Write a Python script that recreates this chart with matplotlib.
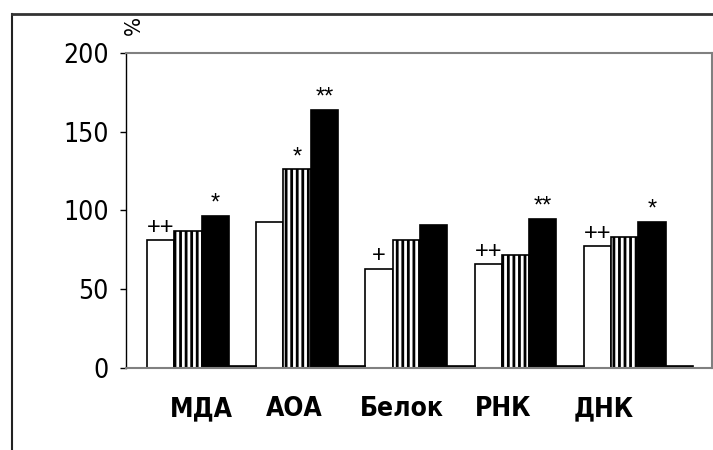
import matplotlib
matplotlib.use("Agg")
import matplotlib.pyplot as plt
from matplotlib.lines import Line2D
from matplotlib import font_manager as fm
import numpy as np
import os

plt.rcParams['hatch.linewidth'] = 2.0

categories = ["МДА", "АОА", "Белок", "РНК", "ДНК"]
series_white = [81, 93, 63, 66, 77.5]
series_striped = [87, 126, 81, 72, 83.5]
series_black = [96.5, 164, 91, 94.5, 92.5]
series_base = [1.5, 1.5, 1.5, 1.5, 1.5]
yticks = [0, 50, 100, 150, 200]

# significance marks: (category index, series index, text)
marks = [(0, 0, "++"), (0, 2, "*"), (1, 1, "*"), (1, 2, "**"),
         (2, 0, "+"), (3, 0, "++"), (3, 2, "**"), (4, 0, "++"), (4, 2, "*")]

# find a narrow font if present
files = fm.findSystemFonts()
def pick(names):
    for n in names:
        for f in files:
            if os.path.basename(f).lower() == n.lower():
                return f
    return None

reg_file = pick(["LiberationSansNarrow-Regular.ttf", "DejaVuSansCondensed.ttf"])
bold_file = pick(["LiberationSansNarrow-Bold.ttf", "DejaVuSansCondensed-Bold.ttf"])
if reg_file:
    fp_reg = fm.FontProperties(fname=reg_file, size=19)
    fp_pct = fm.FontProperties(fname=reg_file, size=16)
else:
    fp_reg = fm.FontProperties(family='Liberation Sans', size=17)
    fp_pct = fm.FontProperties(family='Liberation Sans', size=15)
if bold_file:
    fp_bold = fm.FontProperties(fname=bold_file, size=19)
else:
    fp_bold = fm.FontProperties(family='Liberation Sans', weight='bold', size=17)

fig = plt.figure(figsize=(7.13, 4.5), dpi=100)
ax = fig.add_axes([126 / 713, 1 - 368.3 / 450, (712.3 - 126) / 713, (368.3 - 52.7) / 450])

x = np.arange(len(categories))
w = 0.25
offs = [-1.5 * w, -0.5 * w, 0.5 * w, 1.5 * w]
all_series = [series_white, series_striped, series_black, series_base]
styles = [dict(facecolor='white', edgecolor='black'),
          dict(facecolor='white', edgecolor='black', hatch='|||'),
          dict(facecolor='black', edgecolor='black'),
          dict(facecolor='black', edgecolor='black')]
for s, off, st in zip(all_series, offs, styles):
    ax.bar(x + off, s, width=w, linewidth=1.2, zorder=2, **st)

for ci, si, txt in marks:
    ax.annotate(txt, (x[ci] + offs[si], all_series[si][ci]), xytext=(0, 1),
                textcoords='offset points', ha='center', va='bottom',
                fontsize=17, family=['Liberation Sans', 'DejaVu Sans'])

ax.set_xlim(-0.692, 4.677)
ax.set_ylim(0, 200)
ax.set_yticks(yticks)
ax.set_yticklabels([str(v) for v in yticks], fontproperties=fp_reg)
ax.tick_params(axis='y', direction='out', length=4.3, width=1, pad=8)

label_pos = [0, 0.85, 1.83, 2.76, 3.68]
ax.set_xticks(label_pos)
ax.set_xticklabels(categories, fontproperties=fp_bold)
ax.tick_params(axis='x', length=0, pad=20)

for sp in ['top', 'right', 'bottom']:
    ax.spines[sp].set_color('#808080')
    ax.spines[sp].set_linewidth(1.5)
ax.spines['left'].set_color('black')
ax.spines['left'].set_linewidth(1.0)

ax.text(0.014, 1.055, "%", rotation=90, transform=ax.transAxes,
        ha='center', va='bottom', fontproperties=fp_pct)

# outer frame
fig.add_artist(Line2D([11.5 / 713, 11.5 / 713], [0, 1 - 14 / 450],
                      transform=fig.transFigure, color='#222222', linewidth=1.5))
fig.add_artist(Line2D([11.5 / 713, 1], [1 - 14 / 450, 1 - 14 / 450],
                      transform=fig.transFigure, color='#333333', linewidth=2))

fig.savefig("out.png", dpi=100)
